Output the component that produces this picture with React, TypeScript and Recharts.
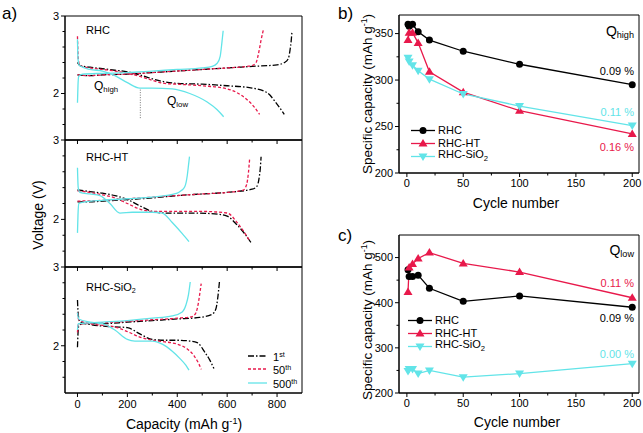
import React from "react";
import { LineChart, Line, XAxis, YAxis, ReferenceArea, ReferenceLine } from "recharts";

const FONT = "'Liberation Sans', Arial, Helvetica, sans-serif";
const INK = "#000";
const RED = "#e8194b";
const CYAN = "#62e4e8";

type Pt = [number, number];

// a) voltage profiles, [capacity mAh/g, voltage V]
const rhc1Dis: Pt[] = [[0, 2.40], [10, 2.36], [50, 2.34], [100, 2.32], [150, 2.30], [200, 2.28], [250, 2.24], [300, 2.19], [350, 2.15], [400, 2.13], [500, 2.12], [600, 2.10], [700, 2.07], [760, 2.01], [796, 1.88], [829, 1.73]];
const rhc1Chg: Pt[] = [[0, 2.24], [50, 2.23], [100, 2.24], [200, 2.25], [300, 2.27], [400, 2.29], [500, 2.31], [600, 2.33], [700, 2.35], [800, 2.37], [830, 2.40], [845, 2.45], [852, 2.56], [857, 2.69], [860, 2.81]];
const rhc50Dis: Pt[] = [[0, 2.74], [3, 2.45], [10, 2.36], [50, 2.33], [100, 2.31], [150, 2.29], [200, 2.26], [250, 2.22], [300, 2.17], [350, 2.13], [400, 2.12], [500, 2.10], [600, 2.06], [640, 2.01], [680, 1.92], [710, 1.82], [730, 1.73]];
const rhc50Chg: Pt[] = [[0, 2.24], [50, 2.23], [100, 2.24], [200, 2.25], [300, 2.27], [400, 2.29], [500, 2.31], [600, 2.33], [680, 2.35], [700, 2.36], [716, 2.40], [726, 2.52], [736, 2.69], [745, 2.82]];
const rhc500Dis: Pt[] = [[0, 2.70], [2, 2.45], [8, 2.36], [50, 2.31], [100, 2.29], [150, 2.23], [200, 2.14], [250, 2.07], [300, 2.07], [380, 2.06], [450, 2.00], [520, 1.89], [560, 1.79], [586, 1.70]];
const rhc500Chg: Pt[] = [[0, 1.88], [2, 2.10], [5, 2.22], [20, 2.25], [100, 2.26], [200, 2.27], [300, 2.29], [400, 2.31], [500, 2.33], [540, 2.35], [560, 2.39], [572, 2.48], [577, 2.60], [581, 2.72], [584, 2.81]];

const ht1Dis: Pt[] = [[0, 2.37], [50, 2.35], [100, 2.33], [150, 2.30], [200, 2.25], [250, 2.17], [300, 2.10], [350, 2.08], [450, 2.08], [550, 2.07], [600, 2.04], [640, 1.93], [670, 1.82], [695, 1.71]];
const ht1Chg: Pt[] = [[0, 2.22], [50, 2.22], [100, 2.23], [200, 2.25], [300, 2.27], [400, 2.30], [500, 2.32], [600, 2.34], [700, 2.38], [720, 2.42], [728, 2.52], [733, 2.65], [736, 2.79]];
const ht50Dis: Pt[] = [[0, 2.36], [50, 2.34], [100, 2.31], [150, 2.27], [200, 2.20], [250, 2.13], [300, 2.10], [400, 2.10], [500, 2.10], [600, 2.08], [640, 1.96], [670, 1.83], [690, 1.73]];
const ht50Chg: Pt[] = [[0, 2.23], [100, 2.24], [200, 2.26], [300, 2.28], [400, 2.30], [500, 2.32], [600, 2.34], [665, 2.37], [678, 2.44], [685, 2.58], [690, 2.76]];
const ht500Dis: Pt[] = [[0, 2.65], [3, 2.40], [10, 2.34], [50, 2.32], [90, 2.30], [130, 2.20], [170, 2.08], [220, 2.09], [300, 2.09], [340, 2.08], [380, 1.96], [420, 1.82], [447, 1.72]];
const ht500Chg: Pt[] = [[0, 1.83], [2, 2.05], [5, 2.20], [30, 2.22], [100, 2.24], [200, 2.26], [300, 2.28], [400, 2.33], [415, 2.36], [430, 2.41], [440, 2.55], [445, 2.68], [449, 2.79]];

const si1Dis: Pt[] = [[0, 2.58], [3, 2.40], [10, 2.30], [50, 2.27], [100, 2.25], [150, 2.24], [200, 2.23], [250, 2.15], [300, 2.08], [350, 2.07], [400, 2.07], [450, 2.06], [480, 2.04], [510, 1.92], [530, 1.82], [547, 1.71]];
const si1Chg: Pt[] = [[0, 1.98], [2, 2.15], [5, 2.25], [20, 2.28], [100, 2.28], [200, 2.30], [300, 2.32], [400, 2.34], [490, 2.36], [540, 2.40], [555, 2.47], [562, 2.60], [569, 2.81]];
const si50Dis: Pt[] = [[0, 2.42], [5, 2.33], [50, 2.28], [100, 2.26], [150, 2.24], [200, 2.18], [250, 2.11], [300, 2.07], [350, 2.05], [400, 2.02], [440, 1.96], [470, 1.86], [485, 1.78], [496, 1.70]];
const si50Chg: Pt[] = [[0, 2.17], [3, 2.27], [20, 2.28], [100, 2.29], [200, 2.31], [300, 2.33], [400, 2.35], [460, 2.37], [475, 2.42], [485, 2.55], [492, 2.70], [496, 2.79]];
const si500Dis: Pt[] = [[0, 2.42], [5, 2.34], [50, 2.30], [100, 2.28], [150, 2.20], [200, 2.08], [230, 2.06], [300, 2.06], [340, 2.02], [380, 1.93], [410, 1.84], [435, 1.75], [447, 1.69]];
const si500Chg: Pt[] = [[0, 2.20], [3, 2.28], [50, 2.29], [100, 2.30], [200, 2.32], [300, 2.35], [380, 2.38], [420, 2.43], [435, 2.52], [445, 2.65], [452, 2.81]];

const CAP_TICKS = [0, 100, 200, 300, 400, 500, 600, 700, 800];
const CAP_LABELS = [0, 200, 400, 600, 800];
const V_TICKS = [1.6, 1.8, 2, 2.2, 2.4, 2.6, 2.8, 3];
const V_LABELS = [2, 3];
const Q_SPLIT = { cap: 252, from: 2.05, to: 1.67 };
const CYCLE_NAMES: [string, string][] = [["1", "st"], ["50", "th"], ["500", "th"]];

// b), c) capacity vs cycle
const CYCLES = [1, 2, 5, 10, 20, 50, 100, 200];
const highRHC = [360, 358, 360, 352, 343, 331, 317, 295];
const highHT = [343, 351, 351, 340, 309, 287, 267, 242];
const highSiO2 = [324, 320, 316, 310, 301, 285, 272, 251];
const lowRHC = [473, 458, 458, 461, 432, 403, 415, 390];
const lowHT = [424, 478, 486, 498, 511, 487, 468, 411];
const lowSiO2 = [249, 253, 253, 243, 250, 235, 243, 265];
const CYC_TICKS = [0, 25, 50, 75, 100, 125, 150, 175, 200];
const CYC_LABELS = [0, 50, 100, 150, 200];
const HIGH_TICKS = [200, 225, 250, 275, 300, 325, 350];
const HIGH_LABELS = [200, 250, 300, 350];
const LOW_TICKS = [200, 250, 300, 350, 400, 450, 500];
const LOW_LABELS = [200, 300, 400, 500];

const CYCLE_STYLE = [
  { stroke: INK, dash: "6 2 1.5 2" },
  { stroke: RED, dash: "3 2" },
  { stroke: CYAN, dash: undefined },
];

const SERIES = [
  { key: "rhc", name: "RHC", color: INK, shape: "circle" },
  { key: "ht", name: "RHC-HT", color: RED, shape: "up" },
  { key: "si", name: "RHC-SiO2", color: CYAN, shape: "down" },
];

const pts = (a: Pt[]) => a.map(([c, v]) => ({ c, v }));
const isMajor = (v: number, majors: number[]) => majors.some((m) => Math.abs(m - v) < 1e-6);

function XTick({ x, y, payload, majors, show, dy }: any) {
  const major = isMajor(payload.value, majors);
  return (
    <g>
      <line x1={x} y1={y} x2={x} y2={y + (major ? 4 : 2.5)} stroke={INK} />
      {major && show && (
        <text x={x} y={y + dy} textAnchor="middle" fontSize={11} fontFamily={FONT} fill={INK}>{payload.value}</text>
      )}
    </g>
  );
}

function YTick({ x, y, payload, majors }: any) {
  const major = isMajor(payload.value, majors);
  return (
    <g>
      <line x1={x} y1={y} x2={x - (major ? 4 : 2.5)} y2={y} stroke={INK} />
      {major && (
        <text x={x - 6} y={y} dy="0.35em" textAnchor="end" fontSize={11} fontFamily={FONT} fill={INK}>{payload.value}</text>
      )}
    </g>
  );
}

function Marker({ shape, cx, cy, color }: any) {
  if (shape === "circle") return <circle cx={cx} cy={cy} r={3.5} fill={color} />;
  const d = shape === "up"
    ? `M${cx},${cy - 4.5}L${cx + 4.5},${cy + 3}L${cx - 4.5},${cy + 3}Z`
    : `M${cx},${cy + 4.5}L${cx + 4.5},${cy - 3}L${cx - 4.5},${cy - 3}Z`;
  return <path d={d} fill={color} />;
}

const seriesName = (n: string) =>
  n.endsWith("SiO2") ? <>RHC-SiO<sub style={{ fontSize: "0.7em" }}>2</sub></> : n;

function Profile({ top, height, padTop, axisH, show, curves, split }: any) {
  return (
    <div style={{ position: "absolute", left: 0, top }}>
      <LineChart width={310} height={height} margin={{ top: padTop, right: 8, bottom: 0, left: 0 }}>
        <XAxis type="number" dataKey="c" domain={[-50, 900]} allowDataOverflow ticks={CAP_TICKS} interval={0}
          height={axisH} tickSize={0} tickMargin={0} tickLine={false} axisLine={{ stroke: INK }}
          tick={(p: any) => <XTick {...p} majors={CAP_LABELS} show={show} dy={15} />} />
        <YAxis type="number" dataKey="v" domain={[1.4, 3]} allowDataOverflow ticks={V_TICKS} interval={0}
          width={65} tickSize={0} tickMargin={0} tickLine={false} axisLine={{ stroke: INK }}
          tick={(p: any) => <YTick {...p} majors={V_LABELS} />} />
        <ReferenceArea x1={-50} x2={900} y1={1.4} y2={3} fill="none" stroke={INK} ifOverflow="visible" />
        {split && (
          <ReferenceLine segment={[{ x: split.cap, y: split.from }, { x: split.cap, y: split.to }]}
            stroke="#777" strokeDasharray="1 1.5" ifOverflow="visible" />
        )}
        {curves.map((pair: Pt[][], i: number) =>
          pair.map((arr, j) => (
            <Line key={`${i}-${j}`} data={pts(arr)} dataKey="v" type="monotone" dot={false}
              stroke={CYCLE_STYLE[i].stroke} strokeDasharray={CYCLE_STYLE[i].dash} strokeWidth={1.3}
              isAnimationActive={false} />
          ))
        )}
      </LineChart>
    </div>
  );
}

function CycleChart({ top, height, padTop, yDomain, yTicks, yMajors, values }: any) {
  const rows = CYCLES.map((c, i) => ({ cycle: c, rhc: values[0][i], ht: values[1][i], si: values[2][i] }));
  return (
    <div style={{ position: "absolute", left: 320, top }}>
      <LineChart width={323} height={height} data={rows} margin={{ top: padTop, right: 4, bottom: 0, left: 0 }}>
        <XAxis type="number" dataKey="cycle" domain={[-7, 206]} allowDataOverflow ticks={CYC_TICKS} interval={0}
          height={42} tickSize={0} tickMargin={0} tickLine={false} axisLine={{ stroke: INK }}
          tick={(p: any) => <XTick {...p} majors={CYC_LABELS} show dy={13.5} />} />
        <YAxis type="number" domain={yDomain} allowDataOverflow ticks={yTicks} interval={0}
          width={79} tickSize={0} tickMargin={0} tickLine={false} axisLine={{ stroke: INK }}
          tick={(p: any) => <YTick {...p} majors={yMajors} />} />
        <ReferenceArea x1={-7} x2={206} y1={yDomain[0]} y2={yDomain[1]} fill="none" stroke={INK} ifOverflow="visible" />
        {SERIES.map((s) => (
          <Line key={s.key} dataKey={s.key} type="linear" stroke={s.color} strokeWidth={1.3}
            dot={(p: any) => <Marker key={p.index} shape={s.shape} cx={p.cx} cy={p.cy} color={s.color} />}
            isAnimationActive={false} />
        ))}
      </LineChart>
    </div>
  );
}

function Note({ x, y, size = 11, color = INK, right = false, children }: any) {
  const style: React.CSSProperties = {
    position: "absolute", top: y - size / 2, fontSize: size, lineHeight: `${size}px`,
    color, whiteSpace: "nowrap",
  };
  if (right) style.right = 643 - x; else style.left = x;
  return <div style={style}>{children}</div>;
}

function Rotated({ x, y, size = 14, children }: any) {
  return (
    <div style={{
      position: "absolute", left: x, top: y, fontSize: size, whiteSpace: "nowrap",
      transform: "translate(-50%, -50%) rotate(-90deg)",
    }}>{children}</div>
  );
}

function Centered({ x, y, size = 14, children }: any) {
  return (
    <div style={{ position: "absolute", left: x, top: y, fontSize: size, whiteSpace: "nowrap", transform: "translate(-50%, -50%)" }}>
      {children}
    </div>
  );
}

function MarkLegend({ x, y }: any) {
  return (
    <div style={{ position: "absolute", left: x, top: y, fontSize: 11 }}>
      {SERIES.map((s) => (
        <div key={s.key} style={{ display: "flex", alignItems: "center", height: 13 }}>
          <svg width={25} height={11}>
            <line x1={0} y1={5.5} x2={24} y2={5.5} stroke={s.color} strokeWidth={1.3} />
            <Marker shape={s.shape} cx={12} cy={5.5} color={s.color} />
          </svg>
          <span style={{ marginLeft: 2, lineHeight: "11px" }}>{seriesName(s.name)}</span>
        </div>
      ))}
    </div>
  );
}

const sub = (t: string) => <sub style={{ fontSize: "0.65em", verticalAlign: "-0.25em" }}>{t}</sub>;
const sup = (t: string) => <sup style={{ fontSize: "0.65em", verticalAlign: "0.5em" }}>{t}</sup>;

export default function App() {
  return (
    <div style={{ position: "absolute", left: 0, top: 0, width: 643, height: 433, background: "#fff", fontFamily: FONT, color: INK }}>
      <Profile top={0} height={150} padTop={16} axisH={10} show={false} split={Q_SPLIT}
        curves={[[rhc1Dis, rhc1Chg], [rhc50Dis, rhc50Chg], [rhc500Dis, rhc500Chg]]} />
      <Profile top={130} height={147} padTop={10} axisH={10} show={false}
        curves={[[ht1Dis, ht1Chg], [ht50Dis, ht50Chg], [ht500Dis, ht500Chg]]} />
      <Profile top={257} height={161} padTop={10} axisH={25} show
        curves={[[si1Dis, si1Chg], [si50Dis, si50Chg], [si500Dis, si500Chg]]} />

      <CycleChart top={0} height={215} padTop={15} yDomain={[200, 370]} yTicks={HIGH_TICKS} yMajors={HIGH_LABELS}
        values={[highRHC, highHT, highSiO2]} />
      <CycleChart top={215} height={220} padTop={20} yDomain={[200, 550]} yTicks={LOW_TICKS} yMajors={LOW_LABELS}
        values={[lowRHC, lowHT, lowSiO2]} />

      {/* panel a texts */}
      <Note x={2} y={13} size={17}>a)</Note>
      <Note x={86} y={30}>RHC</Note>
      <Note x={86} y={157}>RHC-HT</Note>
      <Note x={86} y={287}>RHC-SiO{sub("2")}</Note>
      <Note x={94} y={86} size={12}>Q{sub("high")}</Note>
      <Note x={167} y={101} size={12}>Q{sub("low")}</Note>
      <Rotated x={38} y={215}>Voltage (V)</Rotated>
      <Centered x={184} y={424}>Capacity (mAh g{sup("-1")})</Centered>
      <div style={{ position: "absolute", left: 248, top: 349, fontSize: 11 }}>
        {CYCLE_NAMES.map(([n, s], i) => (
          <div key={n} style={{ display: "flex", alignItems: "center", height: 13.6 }}>
            <svg width={20} height={8}>
              <line x1={0} y1={4} x2={19} y2={4} stroke={CYCLE_STYLE[i].stroke}
                strokeDasharray={CYCLE_STYLE[i].dash} strokeWidth={1.3} />
            </svg>
            <span style={{ marginLeft: 5, lineHeight: "11px" }}>{n}{sup(s)}</span>
          </div>
        ))}
      </div>

      {/* panel b texts */}
      <Note x={338} y={13} size={17}>b)</Note>
      <Note x={634} y={31} size={14} right>Q{sub("high")}</Note>
      <Note x={634} y={71} right>0.09 %</Note>
      <Note x={634} y={112} right color={CYAN}>0.11 %</Note>
      <Note x={634} y={147} right color={RED}>0.16 %</Note>
      <MarkLegend x={411} y={124} />
      <Rotated x={367} y={94} size={13.5}>Specific capacity (mAh g{sup("-1")})</Rotated>
      <Centered x={516} y={203}>Cycle number</Centered>

      {/* panel c texts */}
      <Note x={338} y={235} size={17}>c)</Note>
      <Note x={634} y={250} size={14} right>Q{sub("low")}</Note>
      <Note x={634} y={283} right color={RED}>0.11 %</Note>
      <Note x={634} y={318} right>0.09 %</Note>
      <Note x={634} y={354} right color={CYAN}>0.00 %</Note>
      <MarkLegend x={408} y={314} />
      <Rotated x={367} y={320} size={13.5}>Specific capacity (mAh g{sup("-1")})</Rotated>
      <Centered x={517} y={422}>Cycle number</Centered>
    </div>
  );
}
